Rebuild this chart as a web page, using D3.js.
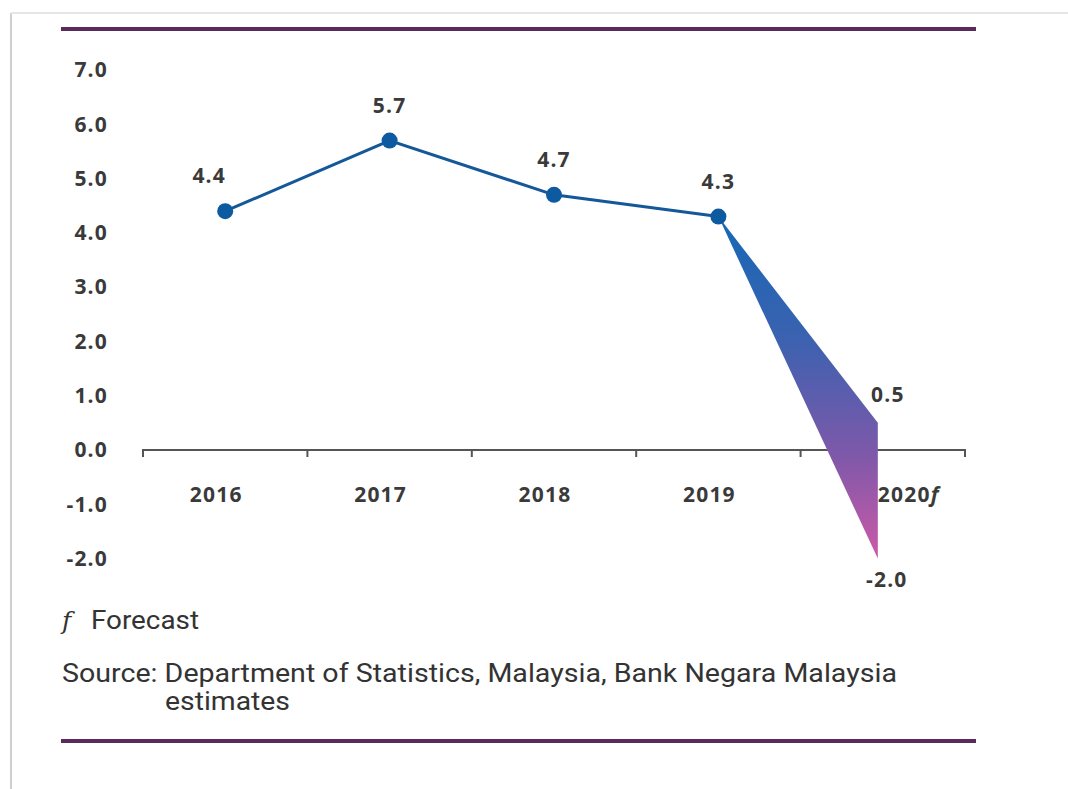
<!DOCTYPE html>
<html>
<head>
<meta charset="utf-8">
<script src="https://cdn.jsdelivr.net/npm/d3@7"></script>
<style>
  html, body { margin: 0; padding: 0; background: #fff; }
  svg { display: block; }
  .tick-y, .lbl { font-family: "Open Sans", sans-serif; font-weight: 700; font-size: 21px; fill: #3a3a3a; letter-spacing: 1.2px; }
  .note { font-family: "Roboto", sans-serif; font-size: 25px; fill: #333; }
</style>
</head>
<body>
<div id="chart"></div>
<script>
// data
const years = ['2016', '2017', '2018', '2019', '2020f'];
const growth = [4.4, 5.7, 4.7, 4.3];
const forecastHigh = 0.5;
const forecastLow = -2.0;
const yTicks = [7, 6, 5, 4, 3, 2, 1, 0, -1, -2];

const W = 1068;
const H = 789;

const $svg = d3.select('#chart').append('svg')
  .attr('width', W)
  .attr('height', H);

// frame
$svg.append('line').attr('x1', 11).attr('x2', 11).attr('y1', 13).attr('y2', H)
  .attr('stroke', '#cfcfcf').attr('stroke-width', 2);
$svg.append('line').attr('x1', 11).attr('x2', W).attr('y1', 13).attr('y2', 13)
  .attr('stroke', '#e6e6e6').attr('stroke-width', 2);

// purple rules
[29, 741].forEach(y => {
  $svg.append('line')
    .attr('x1', 61).attr('x2', 976).attr('y1', y).attr('y2', y)
    .attr('stroke', '#5a2a5c').attr('stroke-width', 4);
});

// scales
const scaleX = d3.scaleBand().domain(years).range([143, 965]);
const scaleY = d3.scaleLinear().domain([0, 7]).range([450, 70]);
const cx = d => scaleX(d) + scaleX.bandwidth() / 2;

// y labels (no axis line)
$svg.append('g').selectAll('text')
  .data(yTicks)
  .join('text')
  .attr('class', 'tick-y')
  .attr('x', 108)
  .attr('y', d => scaleY(d))
  .attr('dy', '0.35em')
  .attr('text-anchor', 'end')
  .text(d => d.toFixed(1));

// x axis
const axisX = d3.axisBottom(scaleX).tickSize(0).tickFormat('');
const $ax = $svg.append('g')
  .attr('transform', `translate(0, ${scaleY(0)})`)
  .call(axisX);
$ax.select('.domain').attr('stroke', '#555').attr('stroke-width', 2)
  .attr('d', `M143,6V0H965V6`);
const bounds = years.map(d => scaleX(d)).concat([965]);
$ax.selectAll('.bound')
  .data(bounds)
  .join('line')
  .attr('class', 'bound')
  .attr('x1', d => d).attr('x2', d => d)
  .attr('y1', 0).attr('y2', 7)
  .attr('stroke', '#555').attr('stroke-width', 2);

// year labels
$svg.append('g').selectAll('text')
  .data(years)
  .join('text')
  .attr('class', 'lbl')
  .attr('x', (d, i) => (i === years.length - 1 ? cx(d) - 5 : cx(d) - 9))
  .attr('y', 502)
  .attr('text-anchor', (d, i) => (i === years.length - 1 ? 'start' : 'middle'))
  .text(d => d.replace('f', ''))
  .filter((d, i) => i === years.length - 1)
  .append('tspan')
  .attr('font-style', 'italic')
  .text('f');

// gradient for forecast wedge
const defs = $svg.append('defs');
const grad = defs.append('linearGradient')
  .attr('id', 'wedge')
  .attr('gradientUnits', 'userSpaceOnUse')
  .attr('x1', 0).attr('x2', 0)
  .attr('y1', scaleY(growth[3])).attr('y2', scaleY(forecastLow));
grad.append('stop').attr('offset', '0%').attr('stop-color', '#1668b6');
grad.append('stop').attr('offset', '35%').attr('stop-color', '#3a62b0');
grad.append('stop').attr('offset', '70%').attr('stop-color', '#7f58a9');
grad.append('stop').attr('offset', '100%').attr('stop-color', '#cc5aa8');

const last = years[3];
const fc = years[4];
$svg.append('path')
  .attr('d', d3.line()([
    [cx(last), scaleY(growth[3])],
    [cx(fc) - 5, scaleY(forecastHigh)],
    [cx(fc) - 5, scaleY(forecastLow)],
  ]) + 'Z')
  .attr('fill', 'url(#wedge)');

// line
const points = growth.map((v, i) => ({ year: years[i], value: v }));
const generateLine = d3.line()
  .x(d => cx(d.year))
  .y(d => scaleY(d.value));

$svg.append('path')
  .datum(points)
  .attr('d', generateLine)
  .attr('fill', 'none')
  .attr('stroke', '#14589a')
  .attr('stroke-width', 3);

$svg.append('g').selectAll('circle')
  .data(points)
  .join('circle')
  .attr('cx', d => cx(d.year))
  .attr('cy', d => scaleY(d.value))
  .attr('r', 8)
  .attr('fill', '#0d5aa0');

// value labels
$svg.append('g').selectAll('text')
  .data(points)
  .join('text')
  .attr('class', 'lbl')
  .attr('x', (d, i) => cx(d.year) + [-16, 0, 0, 0][i])
  .attr('y', d => scaleY(d.value) - 28)
  .attr('text-anchor', 'middle')
  .text(d => d.value.toFixed(1));

$svg.append('text')
  .attr('class', 'lbl')
  .attr('x', cx(fc) + 5)
  .attr('y', scaleY(forecastHigh) - 21)
  .attr('text-anchor', 'middle')
  .text(forecastHigh.toFixed(1));
$svg.append('text')
  .attr('class', 'lbl')
  .attr('x', cx(fc) + 4)
  .attr('y', scaleY(forecastLow) + 28)
  .attr('text-anchor', 'middle')
  .text(forecastLow.toFixed(1));

// notes
const $f = $svg.append('text').attr('class', 'note').attr('x', 62).attr('y', 629);
$f.append('tspan').attr('font-style', 'italic').attr('font-family', 'DejaVu Serif').text('f');
$svg.append('text').attr('class', 'note')
  .attr('x', 91).attr('y', 629)
  .attr('textLength', 108).attr('lengthAdjust', 'spacingAndGlyphs')
  .text('Forecast');

$svg.append('text').attr('class', 'note')
  .attr('x', 62).attr('y', 682)
  .attr('textLength', 835).attr('lengthAdjust', 'spacingAndGlyphs')
  .text('Source: Department of Statistics, Malaysia, Bank Negara Malaysia');
$svg.append('text').attr('class', 'note')
  .attr('x', 165).attr('y', 710)
  .attr('textLength', 125).attr('lengthAdjust', 'spacingAndGlyphs')
  .text('estimates');
</script>
</body>
</html>
